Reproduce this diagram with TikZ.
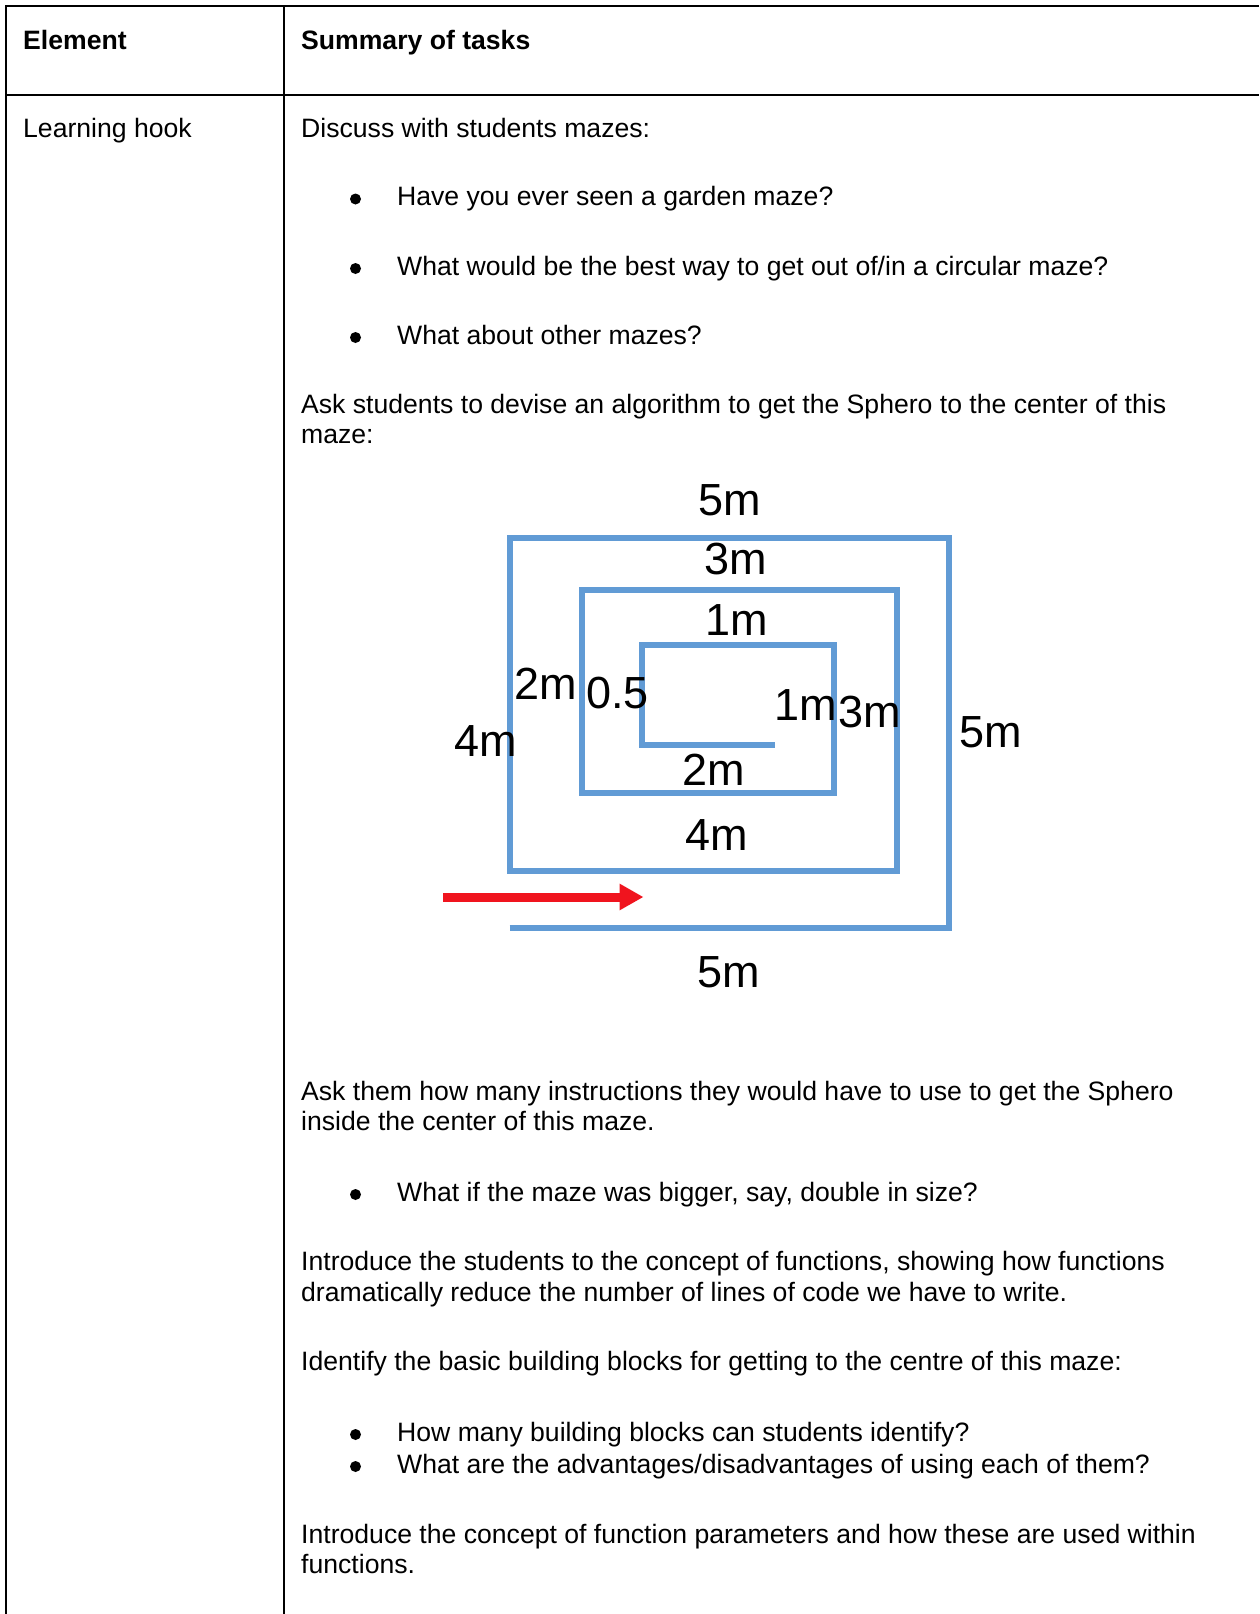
\documentclass[tikz,border=0pt]{standalone}
\usepackage{fontspec}
\setmainfont{Liberation Sans}
\usetikzlibrary{arrows.meta}
\definecolor{mazeblue}{RGB}{97,155,213}
\definecolor{arrowred}{RGB}{240,20,30}
\begin{document}
\begin{tikzpicture}[x=1pt,y=-1pt,
 txt/.style={anchor=base west, inner sep=0pt, font=\fontsize{26.6}{30}\selectfont},
 hdr/.style={anchor=base west, inner sep=0pt, font=\fontsize{26.6}{30}\selectfont\bfseries},
 lbl/.style={inner sep=0pt, font=\fontsize{45}{50}\selectfont},
 rule/.style={line width=2pt, black},
 dot/.style={circle, fill=black, inner sep=0pt, minimum size=11pt},
 wall/.style={line width=6pt, mazeblue, line join=miter}]
\useasboundingbox (0,0) rectangle (1259,1614);
\fill[white] (0,0) rectangle (1259,1614);
% table rules
\coordinate (tl) at (6,6);
\coordinate (tr) at (1259,6);
\coordinate (hl) at (6,95);
\coordinate (hr) at (1259,95);
\coordinate (bl) at (6,1614);
\coordinate (dt) at (284,6);
\coordinate (db) at (284,1614);
\draw[rule] (tr) -- (tl) -- (bl);
\draw[rule] (hl) -- (hr);
\draw[rule] (dt) -- (db);
% header
\node[hdr] (h1) at (23,49) {Element};
\node[hdr] (h2) at (301,49) {Summary of tasks};
% body
\node[txt] (lh) at (23,137.5) {Learning hook};
\node[txt] (t1) at (301,137.5) {Discuss with students mazes:};
\node[dot] (d1) at (355.5,199) {};
\node[txt] (q1) at (397,205.5) {Have you ever seen a garden maze?};
\node[dot] (d2) at (355.5,268.5) {};
\node[txt] (q2) at (397,275) {What would be the best way to get out of/in a circular maze?};
\node[dot] (d3) at (355.5,337.5) {};
\node[txt] (q3) at (397,344.5) {What about other mazes?};
\node[txt] (t2) at (301,413.5) {Ask students to devise an algorithm to get the Sphero to the center of this};
\node[txt] (t2b) at (301,443.5) {maze:};
% maze
\draw[wall] (509.6,928) -- (949,928) -- (949,538.4) -- (509.6,538.4) -- (509.6,871)
  -- (896.6,871) -- (896.6,589.8) -- (581.6,589.8) -- (581.6,792.6) -- (833.8,792.6)
  -- (833.8,645.4) -- (642.3,645.4) -- (642.3,745.3) -- (775.1,745.3);
\coordinate (as) at (443,897);
\coordinate (ae) at (643.5,897);
\draw[arrowred, line width=9pt, -{Triangle[length=24pt,width=25pt]}] (as) -- (ae);
\node[lbl] (m1) at (730,500) {5m};
\node[lbl] (m2) at (736,559) {3m};
\node[lbl] (m3) at (737,620.5) {1m};
\node[lbl] (m4) at (545.6,683.5) {2m};
\node[lbl] (m5) at (617.6,692.8) {0.5};
\node[lbl] (m6) at (486,741) {4m};
\node[lbl] (m7) at (806,705) {1m};
\node[lbl] (m8) at (870,712) {3m};
\node[lbl] (m9) at (990.3,732) {5m};
\node[lbl] (m10) at (713.4,770) {2m};
\node[lbl] (m11) at (716.5,835) {4m};
\node[lbl] (m12) at (729,972) {5m};
% lower text
\node[txt] (t3) at (301,1100.5) {Ask them how many instructions they would have to use to get the Sphero};
\node[txt] (t3b) at (301,1130.5) {inside the center of this maze.};
\node[dot] (d4) at (355.5,1194.5) {};
\node[txt] (q4) at (397,1201.5) {What if the maze was bigger, say, double in size?};
\node[txt] (t4) at (301,1270.5) {Introduce the students to the concept of functions, showing how functions};
\node[txt] (t4b) at (301,1301.5) {dramatically reduce the number of lines of code we have to write.};
\node[txt] (t5) at (301,1370.5) {Identify the basic building blocks for getting to the centre of this maze:};
\node[dot] (d5) at (355.5,1434.5) {};
\node[txt] (q5) at (397,1441.5) {How many building blocks can students identify?};
\node[dot] (d6) at (355.5,1466.5) {};
\node[txt] (q6) at (397,1473.5) {What are the advantages/disadvantages of using each of them?};
\node[txt] (t6) at (301,1543.5) {Introduce the concept of function parameters and how these are used within};
\node[txt] (t6b) at (301,1573.5) {functions.};
\end{tikzpicture}
\end{document}
